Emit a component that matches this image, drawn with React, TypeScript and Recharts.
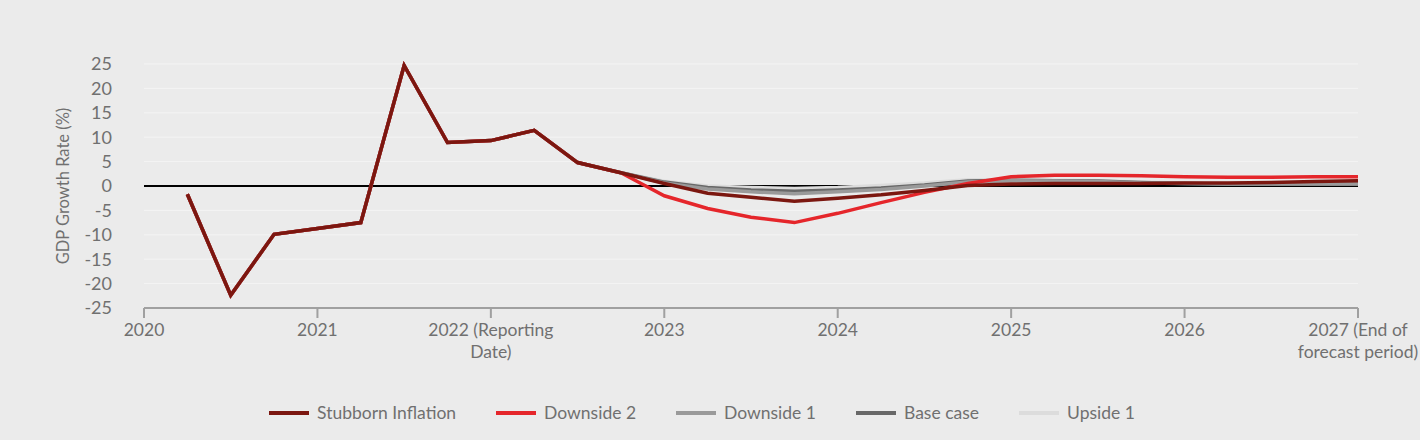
import React from "react";
import { LineChart, Line, XAxis, YAxis, CartesianGrid, ReferenceLine, Legend } from "recharts";

// Quarter index: 0 = start of 2020, 4 = start of 2021, ... 28 = start of 2027
const quarters = [0, 1, 2, 3, 4, 5, 6, 7, 8, 9, 10, 11, 12, 13, 14, 15, 16, 17, 18, 19, 20, 21, 22, 23, 24, 25, 26, 27, 28];

const history = [null, -1.7, -22.4, -9.9, -8.7, -7.5, 24.7, 8.9, 9.3, 11.4, 4.8, 2.7];

const stubbornInflation = [0.5, -1.5, -2.3, -3.1, -2.5, -1.8, -0.9, 0.1, 0.4, 0.5, 0.5, 0.5, 0.6, 0.6, 0.7, 0.9, 1.1];
const downside2 = [-2.0, -4.6, -6.4, -7.5, -5.6, -3.4, -1.3, 0.5, 1.9, 2.2, 2.2, 2.1, 1.9, 1.8, 1.8, 1.9, 1.9];
const downside1 = [0.6, -0.6, -1.2, -1.6, -1.2, -0.7, 0.0, 0.8, 1.1, 1.0, 0.9, 0.6, 0.5, 0.4, 0.4, 0.4, 0.4];
const baseCase = [0.8, -0.3, -0.8, -1.1, -0.8, -0.4, 0.2, 1.0, 1.2, 1.1, 1.0, 0.7, 0.5, 0.4, 0.4, 0.4, 0.4];
const upside1 = [1.0, 0.0, -0.3, -0.5, -0.3, 0.1, 0.6, 1.3, 1.3, 1.2, 1.1, 0.8, 0.6, 0.5, 0.5, 0.5, 0.5];

const xTicks = [0, 4, 8, 12, 16, 20, 24, 28];
const xTickLabels = [["2020"], ["2021"], ["2022 (Reporting", "Date)"], ["2023"], ["2024"], ["2025"], ["2026"], ["2027 (End of", "forecast period)"]];
const yTicks = [-25, -20, -15, -10, -5, 0, 5, 10, 15, 20, 25];

const seriesNames = ["Stubborn Inflation", "Downside 2", "Downside 1", "Base case", "Upside 1"];
const seriesKeys = ["stubborn", "down2", "down1", "base", "up1"];
const seriesColors = ["#7b1710", "#e5262b", "#9a9a9a", "#686868", "#dcdcdc"];
const forecasts = [stubbornInflation, downside2, downside1, baseCase, upside1];

const data = quarters.map((q, i) => {
  const row: any = { q };
  seriesKeys.forEach((k, s) => {
    row[k] = i < history.length ? history[i] : forecasts[s][i - history.length];
  });
  return row;
});

const FONT = "Lato, 'Open Sans', sans-serif";
const TEXT = "#707070";

const XTick = (props: any) => {
  const { x, y, payload } = props;
  const idx = xTicks.indexOf(payload.value);
  const lines = idx >= 0 ? xTickLabels[idx] : [String(payload.value)];
  return (
    <text x={x} y={y} textAnchor="middle" fill={TEXT} fontSize={17.5} fontFamily={FONT}>
      {lines.map((l, i) => (
        <tspan key={i} x={x} dy={i === 0 ? 16 : 22}>{l}</tspan>
      ))}
    </text>
  );
};

const LegendContent = () => (
  <div style={{ display: "flex", justifyContent: "center", paddingRight: 16, fontFamily: FONT, fontSize: 17.5, color: TEXT, lineHeight: "22px" }}>
    {seriesNames.map((n, i) => (
      <div key={n} style={{ display: "flex", alignItems: "center", marginRight: i < seriesNames.length - 1 ? 40 : 0 }}>
        <div style={{ width: 40, height: 4, background: seriesColors[i], marginRight: 8 }} />
        <span>{n}</span>
      </div>
    ))}
  </div>
);

export default function App() {
  const order = [4, 3, 2, 1, 0];
  return (
    <div style={{ position: "fixed", left: 0, top: 0, width: 1420, height: 440, background: "#ebebeb" }}>
      <LineChart width={1420} height={440} data={data} margin={{ top: 64, right: 62, bottom: 40, left: 44 }}>
        <CartesianGrid horizontal={true} vertical={false} stroke="#f4f4f4" strokeWidth={1} />
        <XAxis
          dataKey="q"
          type="number"
          domain={[0, 28]}
          ticks={xTicks}
          interval={0}
          tick={<XTick />}
          axisLine={{ stroke: "#a0a0a0", strokeWidth: 2 }}
          tickLine={{ stroke: "#a0a0a0", strokeWidth: 2 }}
          tickSize={10}
          height={70}
        />
        <YAxis
          type="number"
          domain={[-25, 25]}
          ticks={yTicks}
          interval={0}
          axisLine={false}
          tickLine={false}
          tickSize={0}
          tickMargin={32}
          width={100}
          tick={{ fill: TEXT, fontSize: 18, fontFamily: FONT }}
          label={{
            content: () => (
              <text x={63} y={186} transform="rotate(-90 63 186)" textAnchor="middle" dominantBaseline="central" fill={TEXT} fontSize={16.5} fontFamily={FONT}>
                GDP Growth Rate (%)
              </text>
            ),
          }}
        />
        <ReferenceLine y={0} stroke="#000000" strokeWidth={2} />
        {order.map((s) => (
          <Line
            key={seriesKeys[s]}
            type="linear"
            dataKey={seriesKeys[s]}
            name={seriesNames[s]}
            stroke={seriesColors[s]}
            strokeWidth={3.5}
            dot={false}
            activeDot={false}
            isAnimationActive={false}
            connectNulls={false}
          />
        ))}
        <Legend content={<LegendContent />} wrapperStyle={{ position: "absolute", top: 402, left: 0, width: 1420 }} />
      </LineChart>
    </div>
  );
}
